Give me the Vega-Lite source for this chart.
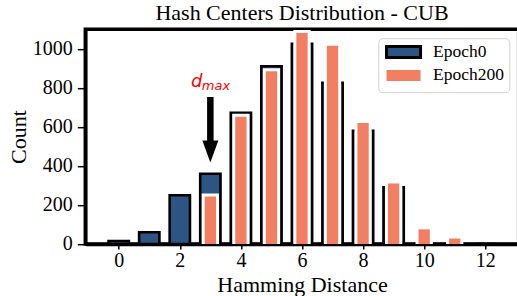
{
  "$schema": "https://vega.github.io/schema/vega-lite/v6.json",
  "width": 433.4,
  "height": 214.8,
  "autosize": "none",
  "padding": {"left": 85.3, "top": 29.2, "right": 0, "bottom": 52},
  "background": "white",
  "title": {
    "text": "Hash Centers Distribution - CUB",
    "font": "Liberation Serif",
    "fontSize": 22,
    "fontWeight": "normal",
    "color": "black",
    "anchor": "middle",
    "baseline": "top",
    "offset": 4
  },
  "config": {
    "view": {"stroke": "black", "strokeWidth": 3.5},
    "axis": {
      "labelFont": "Liberation Serif",
      "labelFontSize": 20,
      "labelColor": "black",
      "titleFont": "Liberation Serif",
      "titleFontSize": 22,
      "titleFontWeight": "normal",
      "titleColor": "black",
      "domainColor": "black",
      "domainWidth": 3.5,
      "tickColor": "black",
      "tickWidth": 1.5,
      "grid": false,
      "zindex": 1
    },
    "legend": {
      "orient": "none",
      "legendX": 293,
      "legendY": 9,
      "padding": 5,
      "cornerRadius": 4,
      "strokeColor": "#d0d0d0",
      "fillColor": "white",
      "symbolType": "M-2.43,-0.786H2.43V0.786H-2.43Z",
      "symbolSize": 196,
      "symbolStrokeWidth": 3,
      "symbolOpacity": 1,
      "symbolOffset": 11.5,
      "labelOffset": 20.8,
      "labelFont": "Liberation Serif",
      "labelFontSize": 17.5,
      "labelColor": "black",
      "labelLimit": 200,
      "rowPadding": -0.5
    }
  },
  "datasets": {
    "bars": [
      {"d": 0, "series": "Epoch0", "v": 15},
      {"d": 1, "series": "Epoch0", "v": 60},
      {"d": 2, "series": "Epoch0", "v": 250},
      {"d": 3, "series": "Epoch0", "v": 360},
      {"d": 4, "series": "Epoch0", "v": 672},
      {"d": 5, "series": "Epoch0", "v": 910},
      {"d": 6, "series": "Epoch0", "v": 1025},
      {"d": 7, "series": "Epoch0", "v": 825},
      {"d": 8, "series": "Epoch0", "v": 580},
      {"d": 9, "series": "Epoch0", "v": 290},
      {"d": 10, "series": "Epoch0", "v": 0},
      {"d": 11, "series": "Epoch0", "v": 0},
      {"d": 12, "series": "Epoch0", "v": 0},
      {"d": 0, "series": "Epoch200", "v": 0},
      {"d": 1, "series": "Epoch200", "v": 0},
      {"d": 2, "series": "Epoch200", "v": 0},
      {"d": 3, "series": "Epoch200", "v": 243},
      {"d": 4, "series": "Epoch200", "v": 652},
      {"d": 5, "series": "Epoch200", "v": 885},
      {"d": 6, "series": "Epoch200", "v": 1080},
      {"d": 7, "series": "Epoch200", "v": 1015},
      {"d": 8, "series": "Epoch200", "v": 620},
      {"d": 9, "series": "Epoch200", "v": 310},
      {"d": 10, "series": "Epoch200", "v": 75},
      {"d": 11, "series": "Epoch200", "v": 28},
      {"d": 12, "series": "Epoch200", "v": 0}
    ],
    "arrow": [{"d": 3, "v": 753, "v2": 520}],
    "head": [{"d": 3, "v": 474}],
    "dmax": [
      {"d": 3, "v": 803, "part": "d"},
      {"d": 3, "v": 803, "part": "max"}
    ]
  },
  "encoding": {
    "x": {
      "field": "d",
      "type": "quantitative",
      "scale": {"domain": [-0.93, 12.93], "nice": false, "zero": false},
      "axis": {
        "title": "Hamming Distance",
        "values": [0, 2, 4, 6, 8, 10, 12],
        "format": "d",
        "tickSize": 5,
        "labelPadding": 2,
        "titlePadding": 4,
        "labelFlush": false
      }
    },
    "y": {
      "field": "v",
      "type": "quantitative",
      "scale": {"domain": [0, 1100], "nice": false},
      "axis": {
        "title": "Count",
        "values": [0, 200, 400, 600, 800, 1000],
        "format": "d",
        "tickSize": 8,
        "labelPadding": 5,
        "titlePadding": 2,
        "labelFlush": false
      }
    }
  },
  "layer": [
    {
      "data": {"name": "bars"},
      "transform": [{"filter": "datum.series == 'Epoch0'"}],
      "mark": {"type": "bar", "width": 20.3, "strokeWidth": 2.6, "opacity": 1, "fillOpacity": 1},
      "encoding": {
        "fill": {
          "field": "series",
          "type": "nominal",
          "scale": {"domain": ["Epoch0", "Epoch200"], "range": ["#2c5583", "#f37f63"]},
          "legend": {"title": null}
        },
        "stroke": {
          "field": "series",
          "type": "nominal",
          "scale": {"domain": ["Epoch0", "Epoch200"], "range": ["black", "rgba(255,255,255,0)"]},
          "legend": {"title": null}
        }
      }
    },
    {
      "data": {"name": "bars"},
      "transform": [{"filter": "datum.series == 'Epoch200' && datum.v > 0"}],
      "mark": {"type": "bar", "width": 11.3, "fill": "white", "stroke": "white", "strokeWidth": 6, "clip": true}
    },
    {
      "data": {"name": "bars"},
      "transform": [{"filter": "datum.series == 'Epoch200' && datum.v > 0"}],
      "mark": {"type": "bar", "width": 11.3, "fill": "#f37f63", "strokeWidth": 0}
    },
    {
      "data": {"name": "arrow"},
      "mark": {"type": "rule", "color": "black", "strokeWidth": 6.5, "strokeCap": "butt"},
      "encoding": {"y2": {"field": "v2"}}
    },
    {
      "data": {"name": "head"},
      "mark": {"type": "point", "shape": "M-0.727,-1L0.727,-1L0,1Z", "size": 484, "filled": true, "color": "black", "opacity": 1}
    },
    {
      "data": {"name": "dmax"},
      "transform": [{"filter": "datum.part == 'd'"}],
      "mark": {"type": "text", "font": "DejaVu Sans", "fontStyle": "italic", "fontSize": 18, "color": "#ff0000", "align": "right", "baseline": "alphabetic", "dx": -8},
      "encoding": {"text": {"field": "part"}}
    },
    {
      "data": {"name": "dmax"},
      "transform": [{"filter": "datum.part == 'max'"}],
      "mark": {"type": "text", "font": "DejaVu Sans", "fontStyle": "italic", "fontSize": 13, "color": "#ff0000", "align": "left", "baseline": "alphabetic", "dx": -8.5, "dy": 3},
      "encoding": {"text": {"field": "part"}}
    }
  ]
}
